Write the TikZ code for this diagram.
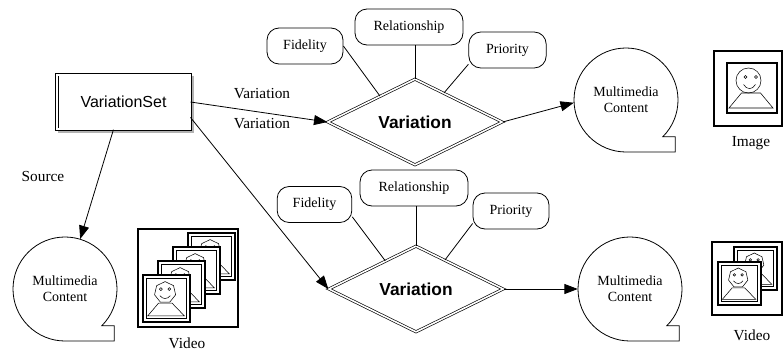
\documentclass[tikz,border=0pt]{standalone}
\usepackage{fontspec}
\setmainfont{Liberation Serif}
\setsansfont{Liberation Sans}
\usepackage{tikz}
\usetikzlibrary{shapes,arrows.meta,positioning,calc}

\tikzset{
  face/.pic={
    \draw[fill=white,line width=1.5pt] (0,0) rectangle (1,1);
    \draw (0.43,0.65) circle[radius=0.25];
    \draw (0.37,0.72) circle[radius=0.03] (0.58,0.72) circle[radius=0.03];
    \draw (0.33,0.57) .. controls (0.4,0.46) and (0.5,0.46) .. (0.57,0.57);
    \draw (0.29,0.4) -- (0.67,0.4) -- (0.92,0.1) -- (0.04,0.1) -- cycle;
  },
  vface/.pic={
    \draw[fill=white,line width=1.4pt] (0,0) rectangle (1,1);
    \draw (0.08,0.08) rectangle (0.92,0.92);
    \draw (0.47,0.63) +(90:0.23) \foreach \k in {1,...,6} {-- +(90+\k*51.43:0.23)} -- cycle;
    \draw (0.38,0.7) circle[radius=0.03] (0.56,0.7) circle[radius=0.03];
    \draw (0.36,0.56) .. controls (0.42,0.48) and (0.52,0.48) .. (0.58,0.56);
    \draw (0.33,0.4) -- (0.62,0.4) -- (0.88,0.13) -- (0.1,0.13) -- cycle;
  }
}

\begin{document}
\begin{tikzpicture}[x=0.75pt,y=0.75pt,
    attr/.style={draw,rounded corners=9pt,minimum height=27pt,inner sep=2pt,line width=0.6pt,font=\fontsize{10.5}{12}\selectfont},
    diam/.style={draw,diamond,double,double distance=1.2pt,line width=0.5pt,fill=white,minimum width=131pt,minimum height=52pt,inner sep=0pt,font=\sffamily\bfseries\fontsize{13}{15}\selectfont},
    mm/.style={circle,minimum size=78pt,inner sep=0pt,align=center,font=\fontsize{10.5}{12}\selectfont},
    lbl/.style={font=\fontsize{11.5}{13}\selectfont},
    arr/.style={-{Triangle[length=10pt,width=7.5pt]},line width=0.6pt},
    link/.style={line width=0.6pt}]
    \useasboundingbox (0,0) rectangle (784,351);

    \node[draw,double,double distance=1.5pt,line width=0.5pt,fill=white,minimum width=100pt,minimum height=41pt,font=\sffamily\fontsize{12}{14}\selectfont] (vset) at (123.5,249) {VariationSet};
    \draw[gray!60,line width=1.3pt] ([shift={(1.8pt,-1pt)}]vset.north east) -- ([shift={(1.8pt,-1.8pt)}]vset.south east) -- ([shift={(1pt,-1.8pt)}]vset.south west);

    \node[diam] (var1) at (415,229) {Variation};
    \node[diam] (var2) at (416,62) {Variation};

    \node[attr,minimum width=57pt] (fid1) at (305,305) {Fidelity};
    \node[attr,minimum width=81pt] (rel1) at (409,324) {Relationship};
    \node[attr,minimum width=58pt] (pri1) at (507.5,301) {Priority};
    \node[attr,minimum width=56pt] (fid2) at (314.5,146.5) {Fidelity};
    \node[attr,minimum width=81pt] (rel2) at (414,163) {Relationship};
    \node[attr,minimum width=57pt] (pri2) at (511,140) {Priority};

    \node[mm] (mc1) at (65,62) {Multimedia\\Content};
    \node[mm] (mc2) at (626,251) {Multimedia\\Content};
    \node[mm] (mc3) at (630,62) {Multimedia\\Content};
    \foreach \m in {mc1,mc2,mc3}
        \draw[link] ($(\m.center)+(-45:39pt)$) arc[start angle=-45,end angle=270,radius=39pt] -- ++(37pt,0) -- ++(0,11.5pt) -- cycle;

    \node[lbl] (lvar1) at (262,257) {Variation};
    \node[lbl] (lvar2) at (262,227) {Variation};
    \node[lbl] (lsrc) at (43,175) {Source};
    \node[lbl] (lvid1) at (187,8) {Video};
    \node[lbl] (limg) at (751,208) {Image};
    \node[lbl] (lvid2) at (752,16) {Video};

    \draw[arr] (vset.east) -- (var1.west);
    \draw[arr] (vset.-13) -- (var2.west);
    \draw[arr] (vset.-110) -- (mc1);
    \draw[arr] (var1.east) -- (mc2.183);
    \draw[arr] (var2.east) -- (mc3.west);

    \draw[link] (fid1.east) -- ($(var1.west)!0.6!(var1.north)$);
    \draw[link] (var1.north) -- (var1.north |- rel1.south);
    \draw[link] (pri1.200) -- ($(var1.north)!0.33!(var1.east)$);
    \draw[link] (fid2.-18) -- ($(var2.west)!0.65!(var2.north)$);
    \draw[link] (var2.north) -- (var2.north |- rel2.south);
    \draw[link] (pri2.198) -- ($(var2.north)!0.33!(var2.east)$);

    \draw[line width=2pt] (714,225) rectangle (782,300);
    \pic[scale=50] at (727,238) {face};

    \draw[line width=2pt] (138,24) rectangle (238,122);
    \foreach \i in {3,2,1,0}
        \pic[scale=47] at ({143+15*\i},{29+14*\i}) {vface};

    \draw[line width=2pt] (712,36) rectangle (782,109);
    \foreach \i in {1,0}
        \pic[scale=43] at ({718+16*\i},{46+15*\i}) {vface};
\end{tikzpicture}
\end{document}
